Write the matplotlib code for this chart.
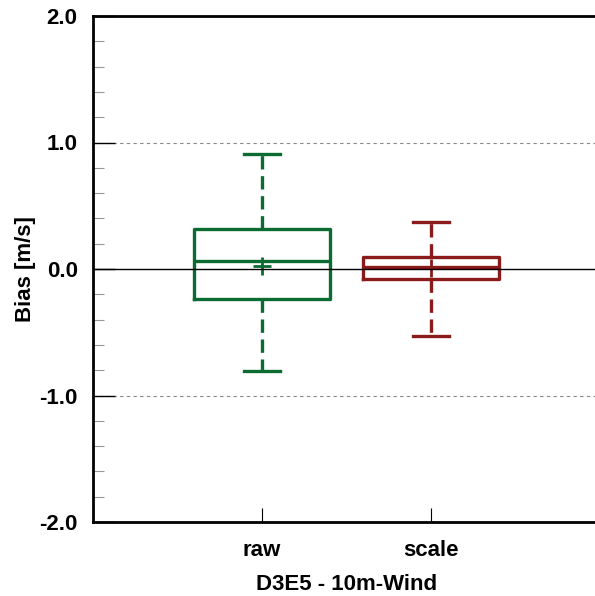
import matplotlib
matplotlib.use("Agg")
import matplotlib.pyplot as plt
from matplotlib.ticker import MultipleLocator, FormatStrFormatter

categories = ["raw", "scale"]
whislo = [-0.81, -0.53]
q1 = [-0.237, -0.081]
med = [0.066, 0.018]
q3 = [0.314, 0.095]
whishi = [0.907, 0.374]
means = [0.026, 0.005]
colors = ["#0b6b30", "#8b1a1a"]

plt.rcParams['font.family'] = ['Liberation Sans', 'DejaVu Sans']

fig = plt.figure(figsize=(5.95, 5.96), dpi=100)
W, H = 595, 596
left, right, top, bottom = 93, 600, 16, 522
ax = fig.add_axes([left / W, 1 - bottom / H, (right - left) / W, (bottom - top) / H])

positions = [1, 2]
for i, cat in enumerate(categories):
    st = [dict(label=cat, whislo=whislo[i], q1=q1[i], med=med[i], q3=q3[i],
               whishi=whishi[i], mean=means[i], fliers=[])]
    c = colors[i]
    ax.bxp(st, positions=[positions[i]], widths=0.81, showmeans=True,
           meanprops=dict(marker='+', markeredgecolor=c, markersize=13, markeredgewidth=2),
           boxprops=dict(color=c, linewidth=2.4),
           medianprops=dict(color=c, linewidth=2.4),
           whiskerprops=dict(color=c, linewidth=2.4, linestyle=(0, (4, 2))),
           capprops=dict(color=c, linewidth=2.4),
           capwidths=0.21, manage_ticks=False)

ax.axhline(0, color='black', linewidth=1.0, zorder=3)
for yv in [-1, 1]:
    ax.axhline(yv, color='#888888', linewidth=0.8, linestyle=(0, (3, 3)), zorder=0)

ax.set_xlim(0, 3)
ax.set_ylim(-2, 2)
ax.set_xticks(positions)
ax.set_xticklabels(categories, fontsize=16, fontweight='bold')
ax.yaxis.set_major_locator(MultipleLocator(1.0))
ax.yaxis.set_minor_locator(MultipleLocator(0.2))
ax.yaxis.set_major_formatter(FormatStrFormatter('%.1f'))
for lab in ax.get_yticklabels():
    lab.set_fontweight('bold')
    lab.set_fontsize(16)
ax.tick_params(axis='y', which='major', direction='in', length=16, width=1.0, pad=11)
ax.tick_params(axis='y', which='minor', direction='in', length=8, width=0.8, color='#999999')
ax.tick_params(axis='x', which='major', direction='in', length=10, width=0.8, pad=13)

for s in ['left', 'top', 'bottom']:
    ax.spines[s].set_linewidth(2.0)
ax.spines['right'].set_visible(False)

ax.set_ylabel("Bias [m/s]", fontsize=16, fontweight='bold', va='center')
ax.yaxis.set_label_coords((25 - left) / (right - left), 0.5)
ax.set_xlabel("D3E5 - 10m-Wind", fontsize=16, fontweight='bold', labelpad=9)

fig.savefig("out.png", dpi=100)
